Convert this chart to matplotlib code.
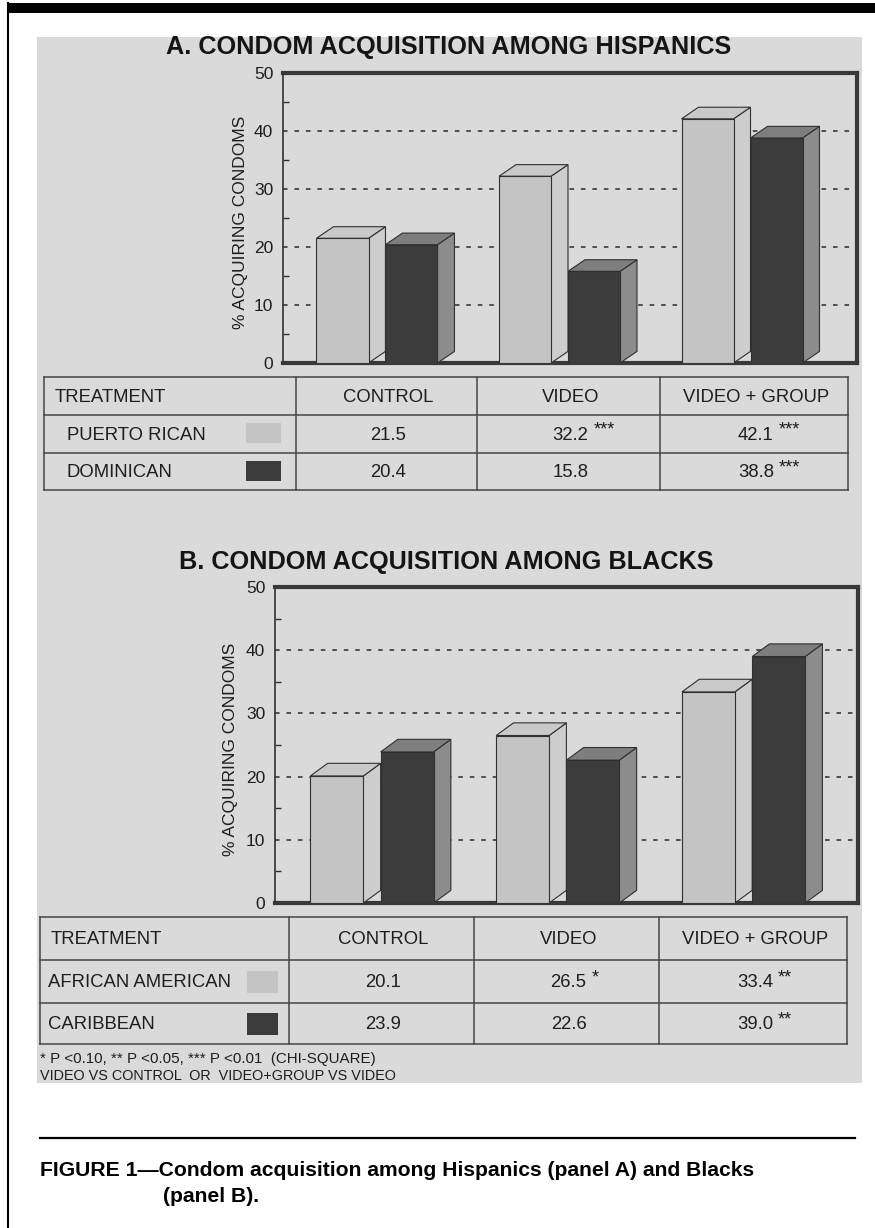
import numpy as np
import matplotlib
matplotlib.use('Agg')
import matplotlib.pyplot as plt
from matplotlib.patches import Polygon, Rectangle
from matplotlib.ticker import MultipleLocator

# データ
treatments = ['CONTROL', 'VIDEO', 'VIDEO + GROUP']
hisp_groups = ['PUERTO RICAN', 'DOMINICAN']
puerto_rican = [21.5, 32.2, 42.1]
dominican = [20.4, 15.8, 38.8]
hisp_stars = [['', '***', '***'], ['', '', '***']]
black_groups = ['AFRICAN AMERICAN', 'CARIBBEAN']
african_american = [20.1, 26.5, 33.4]
caribbean = [23.9, 22.6, 39.0]
black_stars = [['', '*', '**'], ['', '', '**']]
yticks = [0, 10, 20, 30, 40, 50]
footnote = ['* P <0.10, ** P <0.05, *** P <0.01  (CHI-SQUARE)',
            'VIDEO VS CONTROL  OR  VIDEO+GROUP VS VIDEO']
caption1 = 'FIGURE 1\u2014Condom acquisition among Hispanics (panel A) and Blacks'
caption2 = '(panel B).'

FONT = ['Liberation Sans', 'DejaVu Sans']
W, H = 875, 1228
BG = '#dadada'
INK = '#303030'
TXT = '#1e1e1e'

# 色 (前面, 側面, 上面)
LIGHT = ('#c4c4c4', '#cdcdcd', '#c9c9c9')
DARK = ('#3c3c3c', '#8c8c8c', '#7e7e7e')

fig = plt.figure(figsize=(W / 100, H / 100), dpi=100)
bg = fig.add_axes([0, 0, 1, 1], zorder=0)
bg.set_xlim(0, W)
bg.set_ylim(H, 0)
bg.axis('off')

# 枠と背景
bg.add_patch(Rectangle((7, 3), W - 7, 10, color='black', lw=0))
bg.plot([8, 8], [3, H], color='black', lw=1.5)
bg.add_patch(Rectangle((37, 37), 825, 1046, color=BG, lw=0))


def px_axes(l, t, r, b):
    return fig.add_axes([l / W, 1 - b / H, (r - l) / W, (b - t) / H], zorder=2)


def bar3d(ax, x, h, w, dx, dy, cols):
    front, side, top = cols
    ax.add_patch(Polygon([(x + w, 0), (x + w + dx, dy), (x + w + dx, h + dy), (x + w, h)],
                         closed=True, fc=side, ec=INK, lw=0.8, zorder=3))
    ax.add_patch(Polygon([(x, h), (x + dx, h + dy), (x + w + dx, h + dy), (x + w, h)],
                         closed=True, fc=top, ec=INK, lw=0.8, zorder=3))
    ax.add_patch(Rectangle((x, 0), w, h, fc=front, ec=INK, lw=0.8, zorder=3))


def chart(box, xlim, title, title_xy, ylabel_x, series):
    l, t, r, b = box
    ax = px_axes(l, t, r, b)
    ax.set_facecolor('none')
    ax.set_xlim(*xlim)
    ax.set_ylim(0, 50)
    w, dx, dy = 0.285, 0.093, 2.0
    pos = np.arange(len(treatments))
    for i in pos:
        x0 = i - (2 * w + dx) / 2
        bar3d(ax, x0, series[0][i], w, dx, dy, LIGHT)
        bar3d(ax, x0 + w + dx, series[1][i], w, dx, dy, DARK)
    ax.set_yticks(yticks)
    ax.set_yticklabels([str(v) for v in yticks], family=FONT, fontsize=12.5, color=TXT)
    ax.yaxis.set_minor_locator(MultipleLocator(5))
    ax.tick_params(axis='y', which='major', length=0, pad=7)
    ax.tick_params(axis='y', which='minor', direction='in', length=4, width=1, color=INK)
    ax.set_xticks([])
    for yv in yticks[1:-1]:
        ax.axhline(yv, color='#2a2a2a', lw=1.1, ls=(0, (3, 4.5)), zorder=1)
    for s in ['top', 'right', 'bottom']:
        ax.spines[s].set_linewidth(3)
        ax.spines[s].set_color('#383838')
    ax.spines['left'].set_linewidth(1.2)
    ax.spines['left'].set_color(INK)
    bg.text(title_xy[0], title_xy[1], title, family=FONT, weight='bold',
            fontsize=18.2, ha='center', va='center', color='#151515')
    bg.text(ylabel_x, (t + b) / 2 + 4, '% ACQUIRING CONDOMS', family=FONT, fontsize=12.5,
            rotation=90, ha='center', va='center', color=TXT)
    return ax


def table(xs, ys, groups, series, stars, label_x, sw_x, sw_rows):
    for y in ys:
        bg.plot([xs[0], xs[-1]], [y, y], color='#444', lw=1.1)
    for x in xs:
        bg.plot([x, x], [ys[0], ys[-1]], color='#444', lw=1.1)
    fs = 13.3
    bg.text(xs[0] + 11, (ys[0] + ys[1]) / 2 + 1, 'TREATMENT', family=FONT, fontsize=fs,
            ha='left', va='center', color=TXT)
    for j, name in enumerate(treatments):
        cx = (xs[j + 1] + xs[j + 2]) / 2 + 2
        bg.text(cx, (ys[0] + ys[1]) / 2 + 1, name, family=FONT, fontsize=fs,
                ha='center', va='center', color=TXT)
    for k in range(2):
        cy = (ys[k + 1] + ys[k + 2]) / 2 + 1
        bg.text(label_x, cy, groups[k], family=FONT, fontsize=fs,
                ha='left', va='center', color=TXT)
        sy0, sy1 = sw_rows[k]
        cols = LIGHT if k == 0 else DARK
        bg.add_patch(Rectangle((sw_x[0], sy0), sw_x[1] - sw_x[0], sy1 - sy0,
                               fc=cols[0], ec='none'))
        for j in range(3):
            cx = (xs[j + 1] + xs[j + 2]) / 2 + 2
            bg.text(cx, cy, f'{series[k][j]:.1f}', family=FONT, fontsize=fs,
                    ha='center', va='center', color=TXT)
            if stars[k][j]:
                bg.text(cx + 23, cy - 5, stars[k][j], family=FONT, fontsize=13,
                        ha='left', va='center', color=TXT)


# パネルA
chart((283, 73, 857, 363), (-0.515, 2.63), 'A. CONDOM ACQUISITION AMONG HISPANICS',
      (449, 47), 240, (puerto_rican, dominican))
table([44, 296, 477, 660, 848], [377, 415, 453, 490], hisp_groups,
      (puerto_rican, dominican), hisp_stars, 67, (246, 281), [(423, 443), (461, 481)])

# パネルB
chart((275, 587, 858, 903), (-0.522, 2.616), 'B. CONDOM ACQUISITION AMONG BLACKS',
      (446, 562), 230, (african_american, caribbean))
table([40, 289, 474, 659, 847], [917, 960, 1003, 1044], black_groups,
      (african_american, caribbean), black_stars, 48, (247, 278), [(971, 993), (1013, 1035)])

# 注
bg.text(40, 1059, footnote[0], family=FONT, fontsize=10.9, ha='left', va='center', color=TXT)
bg.text(40, 1076, footnote[1], family=FONT, fontsize=10.4, ha='left', va='center', color=TXT)

# キャプション
bg.plot([40, 855], [1138, 1138], color='black', lw=1.6)
bg.text(40, 1170, caption1, family=FONT, weight='bold', fontsize=15.2, ha='left', va='center')
bg.text(163, 1196, caption2, family=FONT, weight='bold', fontsize=15.2, ha='left', va='center')

fig.savefig('out.png', dpi=100)
